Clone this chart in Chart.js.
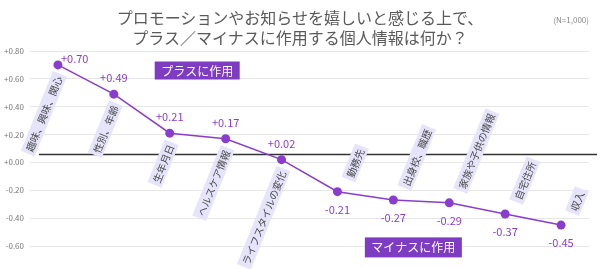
<!DOCTYPE html>
<html>
<head>
<meta charset="utf-8">
<script src="https://cdn.jsdelivr.net/npm/chart.js@4"></script>
<style>
  body { margin: 0; background: #fff; }
  #wrap { position: relative; width: 600px; height: 269px; }
  .title {
    position: absolute; left: 0; top: 7px; width: 600px;
    text-align: center; font: 16px "Noto Sans CJK JP"; line-height: 20px; color: #595959;
  }
  .n { position: absolute; right: 11px; top: 14px; font: 8px "Noto Sans CJK JP"; color: #888; }
</style>
</head>
<body>
<div id="wrap">
  <canvas id="chart" width="600" height="269"></canvas>
  <div class="title">プロモーションやお知らせを嬉しいと感じる上で、<br>プラス／マイナスに作用する個人情報は何か？</div>
  <div class="n">(N=1,000)</div>
</div>
<script>
const categories = ["趣味、興味、関心", "性別、年齢", "生年月日", "ヘルスケア情報", "ライフスタイルの変化",
  "勤務先", "出身校、職歴", "家族や子供の情報", "自宅住所", "収入"];
const scores = [0.70, 0.49, 0.21, 0.17, 0.02, -0.21, -0.27, -0.29, -0.37, -0.45];
const yMin = -0.6;
const yMax = 0.8;
const yStep = 0.2;
const baseline = 0.063;
const plusLabel = "プラスに作用";
const minusLabel = "マイナスに作用";

const purple = "#8a3ccf";

const overlay = {
  id: "overlay",
  beforeDatasetsDraw(chart) {
    const { ctx, chartArea, scales: { x, y } } = chart;
    ctx.save();
    // reference line
    const by = Math.round(y.getPixelForValue(baseline)) + 0.5;
    ctx.strokeStyle = "#333";
    ctx.lineWidth = 1.5;
    ctx.beginPath();
    ctx.moveTo(chartArea.left + 9, by);
    ctx.lineTo(chart.width - 3, by);
    ctx.stroke();

    // category labels in rotated boxes
    ctx.font = '10px "Noto Sans CJK JP"';
    ctx.textBaseline = "middle";
    ctx.textAlign = "left";
    categories.forEach((c, i) => {
      const px = x.getPixelForValue(i);
      const py = y.getPixelForValue(scores[i]);
      const w = ctx.measureText(c).width + 6;
      const h = 15;
      const pos = scores[i] >= 0;
      ctx.save();
      if (pos) ctx.translate(px + 2, py + 9);
      else ctx.translate(px + 11, py - 12);
      ctx.rotate(-68 * Math.PI / 180);
      const x0 = pos ? -w : 0;
      ctx.fillStyle = "#e6e4fa";
      ctx.fillRect(x0, -h / 2, w, h);
      ctx.fillStyle = "#4a4a4a";
      ctx.fillText(c, x0 + 3, 0.5);
      ctx.restore();
    });
    ctx.restore();
  },
  afterDatasetsDraw(chart) {
    const { ctx, chartArea, scales: { x, y } } = chart;
    ctx.save();
    // value labels
    ctx.font = '11px "Noto Sans CJK JP"';
    ctx.fillStyle = purple;
    ctx.textBaseline = "middle";
    scores.forEach((v, i) => {
      const px = x.getPixelForValue(i);
      const py = y.getPixelForValue(v);
      const txt = (v >= 0 ? "+" : "") + v.toFixed(2);
      if (v >= 0) {
        if (py - 16 < chartArea.top + 4) {
          ctx.textAlign = "left";
          ctx.fillText(txt, px + 3, py - 6);
        } else {
          ctx.textAlign = "center";
          ctx.fillText(txt, px, py - 16);
        }
      } else {
        ctx.textAlign = "center";
        ctx.fillText(txt, px, py + 18);
      }
    });

    // zone boxes
    ctx.font = '12px "Noto Sans CJK JP"';
    ctx.textAlign = "center";
    const zone = (label, cx, cy, h) => {
      const w = ctx.measureText(label).width + 13;
      ctx.fillStyle = "#7d3cc2";
      ctx.fillRect(cx - w / 2, cy - h / 2, w, h);
      ctx.fillStyle = "#fff";
      ctx.fillText(label, cx, cy + 0.5);
    };
    const mid = (a, b) => (x.getPixelForValue(a) + x.getPixelForValue(b)) / 2;
    zone(plusLabel, mid(2, 3) - 0.5, y.getPixelForValue(0.66), 18);
    zone(minusLabel, x.getPixelForValue(6) + 20, y.getPixelForValue(-0.61), 20);
    ctx.restore();
  }
};

new Chart(document.getElementById("chart").getContext("2d"), {
  type: "line",
  data: {
    labels: categories,
    datasets: [{
      data: scores,
      borderColor: purple,
      backgroundColor: purple,
      borderWidth: 1.5,
      pointRadius: 4.5,
      pointBackgroundColor: purple,
      pointBorderWidth: 0,
      tension: 0,
      fill: false
    }]
  },
  options: {
    responsive: false,
    animation: false,
    layout: { padding: { top: 51, right: 11, bottom: 23, left: 0 } },
    plugins: { legend: { display: false }, title: { display: false }, tooltip: { enabled: false } },
    scales: {
      x: {
        display: false,
        offset: true
      },
      y: {
        min: yMin,
        max: yMax,
        afterFit(scale) { scale.width = 30; },
        grid: { color: "#e6e6e6", drawTicks: false },
        border: { display: false },
        ticks: {
          stepSize: yStep,
          padding: 6,
          color: "#777",
          font: { size: 8, family: '"Noto Sans CJK JP"' },
          callback: v => {
            const r = Math.round(v * 100) / 100;
            return (r >= 0 ? "+" : "") + (r === 0 ? "0.00" : r.toFixed(2));
          }
        }
      }
    }
  },
  plugins: [overlay]
});
</script>
</body>
</html>
